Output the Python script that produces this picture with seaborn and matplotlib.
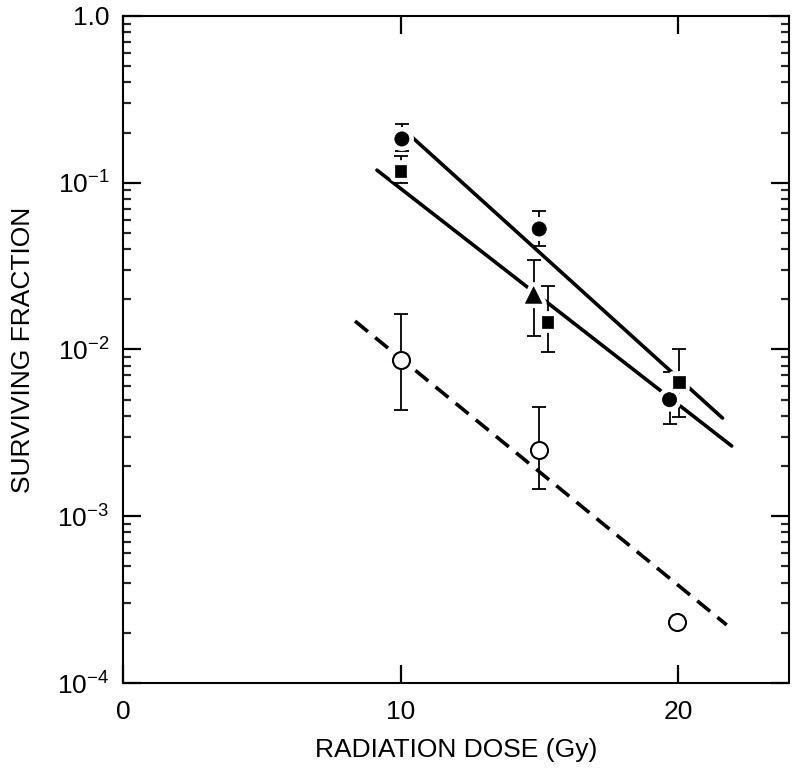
import numpy as np
import matplotlib
matplotlib.use('Agg')
import matplotlib.pyplot as plt
import matplotlib.patheffects as pe
from matplotlib.ticker import LogLocator, NullFormatter, FixedLocator
import seaborn as sns

# ---------------------------
# Data
# ---------------------------
# filled circles
circ_x = [10.05, 15.0, 19.7]
circ_y = [0.183, 0.0528, 0.0050]
circ_lo = [0.155, 0.0418, 0.00357]
circ_hi = [0.225, 0.0677, 0.00733]

# filled squares
sq_x = [10.0, 15.3, 20.05]
sq_y = [0.1175, 0.0146, 0.0064]
sq_lo = [0.0997, 0.00966, 0.00394]
sq_hi = [0.145, 0.024, 0.0101]

# filled triangle
tri_x = [14.8]
tri_y = [0.0212]
tri_lo = [0.0120]
tri_hi = [0.0344]

# open circles (last point has no error bar)
open_x = [10.0, 15.0, 19.96]
open_y = [0.00865, 0.0025, 0.000232]
open_lo = [0.00434, 0.00146, 0.000232]
open_hi = [0.0163, 0.00452, 0.000232]

# fitted lines (end points)
fit_upper_x = [10.41, 21.61]
fit_upper_y = [0.188, 0.00388]
fit_lower_x = [9.15, 21.94]
fit_lower_y = [0.119, 0.00264]
fit_dash_x = [8.36, 21.76]
fit_dash_y = [0.0148, 0.000223]

x_ticks = [0, 10, 20]
y_ticks = [1e-4, 1e-3, 1e-2, 1e-1, 1.0]
y_labels = [r'$\mathregular{10^{-4}}$', r'$\mathregular{10^{-3}}$',
            r'$\mathregular{10^{-2}}$', r'$\mathregular{10^{-1}}$', '1.0']

# ---------------------------
# Style
# ---------------------------
sns.set_style('ticks')
plt.rcParams['font.family'] = ['Liberation Sans', 'DejaVu Sans']
plt.rcParams['mathtext.fontset'] = 'custom'
plt.rcParams['mathtext.rm'] = 'Liberation Sans'
plt.rcParams['text.color'] = 'black'
plt.rcParams['axes.labelcolor'] = 'black'

fig = plt.figure(figsize=(8, 7.75), dpi=100)
ax = fig.add_axes([0.154, 0.1187, 0.832, 0.8607])

# lines
sns.lineplot(x=fit_upper_x, y=fit_upper_y, ax=ax, color='black', lw=2.6, zorder=2)
sns.lineplot(x=fit_lower_x, y=fit_lower_y, ax=ax, color='black', lw=2.6, zorder=2)
sns.lineplot(x=fit_dash_x, y=fit_dash_y, ax=ax, color='black', lw=2.6, zorder=2)
ax.lines[-1].set_dashes([4.6, 2.6])

# error bars
def err(xs, ys, lo, hi):
    ys = np.array(ys)
    yerr = [ys - np.array(lo), np.array(hi) - ys]
    ax.errorbar(xs, ys, yerr=yerr, fmt='none', ecolor='black', elinewidth=1.3,
                capsize=5, capthick=1.3, zorder=3)

err(circ_x, circ_y, circ_lo, circ_hi)
err(sq_x, sq_y, sq_lo, sq_hi)
err(tri_x, tri_y, tri_lo, tri_hi)
err(open_x[:2], open_y[:2], open_lo[:2], open_hi[:2])

halo = [pe.Stroke(linewidth=7, foreground='white'), pe.Normal()]

sns.scatterplot(x=circ_x, y=circ_y, ax=ax, marker='o', s=105, color='black',
                edgecolor='black', linewidth=0.5, zorder=4)
ax.collections[-1].set_path_effects(halo)
sns.scatterplot(x=sq_x, y=sq_y, ax=ax, marker='s', s=70, color='black',
                edgecolor='black', linewidth=0.5, zorder=4)
ax.collections[-1].set_path_effects(halo)
sns.scatterplot(x=tri_x, y=tri_y, ax=ax, marker='^', s=140, color='black',
                edgecolor='black', linewidth=0.5, zorder=4)
ax.collections[-1].set_path_effects(halo)
sns.scatterplot(x=open_x, y=open_y, ax=ax, marker='o', s=150, color='white',
                edgecolor='black', linewidth=1.5, zorder=5)

# ---------------------------
# Axes
# ---------------------------
ax.set_yscale('log')
ax.set_xlim(0, 24)
ax.set_ylim(1e-4, 1.0)
ax.xaxis.set_major_locator(FixedLocator(x_ticks))
ax.set_yticks(y_ticks)
ax.set_yticklabels(y_labels)
ax.yaxis.set_minor_locator(LogLocator(base=10, subs=np.arange(2, 10)))
ax.yaxis.set_minor_formatter(NullFormatter())

for sp in ax.spines.values():
    sp.set_visible(True)
    sp.set_linewidth(1.5)
    sp.set_color('black')

ax.tick_params(axis='both', which='major', direction='in', length=13, width=1.6,
               labelsize=19, top=True, right=True, pad=10, colors='black')
ax.tick_params(axis='y', which='minor', direction='in', length=6, width=1.6,
               left=True, right=True)
ax.tick_params(axis='x', which='major', pad=12)

ax.set_xlabel('RADIATION DOSE (Gy)', fontsize=19, color='black')
ax.set_ylabel('SURVIVING FRACTION', fontsize=19, color='black')
ax.xaxis.set_label_coords(0.5, -0.082)
ax.yaxis.set_label_coords(-0.132, 0.5)

fig.savefig('out.png', dpi=100, facecolor='white')
